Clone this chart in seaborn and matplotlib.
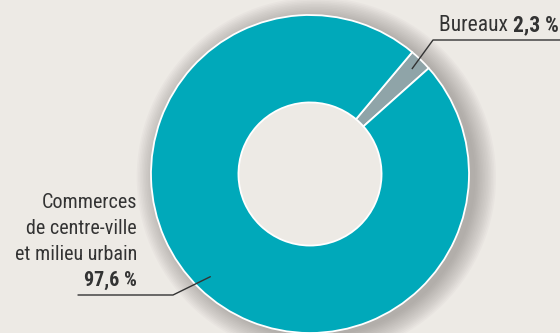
import numpy as np
import matplotlib
matplotlib.use("Agg")
import matplotlib.pyplot as plt
import seaborn as sns
from matplotlib.patches import Circle

categories = ["Bureaux", "Commerces de centre-ville et milieu urbain"]
values = [2.3, 97.6]
value_labels = ["2,3 %", "97,6 %"]
colors = ["#8FA4A8", "#00A9BA"]

sns.set_theme(style="white")
plt.rcParams['font.family'] = ['Roboto Condensed', 'Liberation Sans Narrow', 'Arial Narrow',
                               'Roboto', 'DejaVu Sans']

W, H = 560, 333
fig = plt.figure(figsize=(W / 100, H / 100), dpi=100)
bg = "#EDEAE5"
fig.patch.set_facecolor(bg)
ax = fig.add_axes([0, 0, 1, 1])
ax.set_facecolor(bg)

cx, cy, R = 310, 174, 159  # pixel layout of donut

# soft shadow
for r in np.linspace(1.13, 1.0, 14):
    ax.add_patch(Circle((0.04, -0.02), r, color="#6f6a66", alpha=0.04, lw=0, zorder=1))

wedges, _ = ax.pie(values, colors=colors, startangle=50, counterclock=False,
                   radius=1.0, wedgeprops=dict(width=0.55, edgecolor="white", linewidth=1.3),
                   frame=False)
for w in wedges:
    w.set_zorder(3)
ax.add_patch(Circle((0, 0), 0.45, color=bg, lw=0, zorder=2))

ax.set_xlim(-cx / R, (W - cx) / R)
ax.set_ylim(-(H - cy) / R, cy / R)
ax.set_aspect("equal")
ax.axis("off")

def mid(w, r):
    a = np.deg2rad((w.theta1 + w.theta2) / 2)
    return r * np.cos(a), r * np.sin(a)

def d(px, py):
    return (px - cx) / R, (cy - py) / R

txt = "#333333"
fs_top = 15.5
fs = 14.5

# Bureaux label
bx, by = mid(wedges[0], 0.92)
kx, ky = d(433, 40)
ex, ey = d(W + 5, 40)
ax.plot([bx, kx, ex], [by, ky, ey], color=txt, lw=1.0, zorder=5, solid_capstyle="butt")
tx, ty = d(439, 36)
t1 = ax.text(tx, ty, categories[0] + " ", fontsize=fs_top, color=txt, ha="left", va="bottom")
ax.annotate(value_labels[0], xy=(1, 0), xycoords=t1, fontsize=fs_top, color=txt,
            ha="left", va="bottom", fontweight="bold")

# Commerces label
mx, my = mid(wedges[1], 0.90)
kx, ky = d(173, 295)
ex, ey = d(78, 295)
ax.plot([mx, kx, ex], [my, ky, ey], color=txt, lw=1.0, zorder=5)
lines = ["Commerces", "de centre-ville", "et milieu urbain"]
baselines = [208, 234, 260]
for s, b in zip(lines, baselines):
    x, y = d(137, b)
    ax.text(x, y, s, fontsize=fs, color=txt, ha="right", va="baseline")
x, y = d(137, 286)
ax.text(x, y, value_labels[1], fontsize=fs, color=txt, ha="right", va="baseline",
        fontweight="bold")

fig.savefig("out.png", dpi=100, facecolor=bg)
